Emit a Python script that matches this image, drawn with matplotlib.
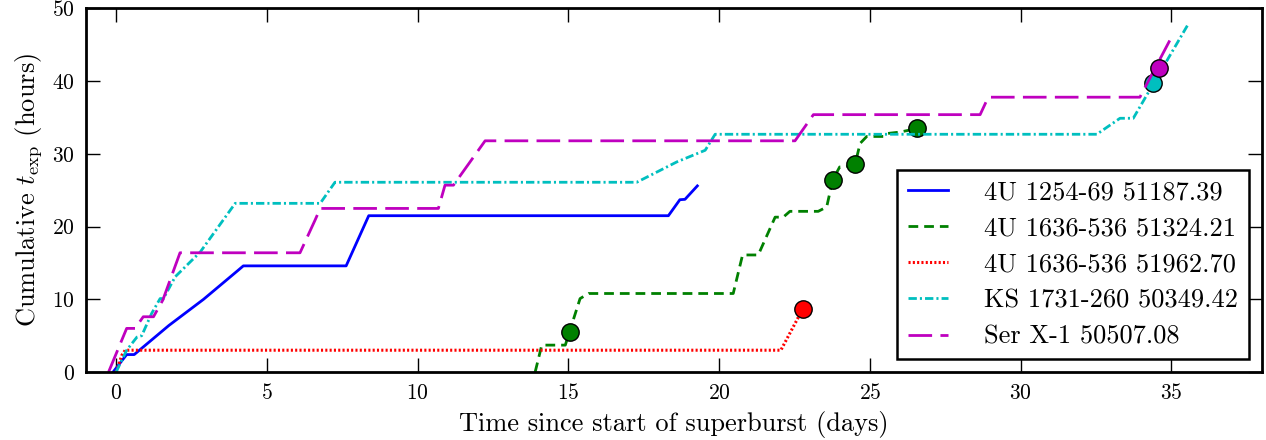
"""
Cumulative exposure time after superburst onset for several sources.
"""
import matplotlib
matplotlib.use("Agg")
import matplotlib.pyplot as plt

plt.rcParams["font.family"] = ["cmr10", "DejaVu Serif"]
plt.rcParams["mathtext.fontset"] = "cm"
plt.rcParams["axes.formatter.use_mathtext"] = True
plt.rcParams["lines.scale_dashes"] = False

# 4U 1254-69 51187.39
blue_t = [-0.1, 0.35, 0.6, 1.75, 2.9, 4.05, 4.22, 7.63, 8.38, 18.32, 18.7, 18.87, 19.28]
blue_h = [0.0, 2.4, 2.4, 6.4, 10.0, 14.0, 14.6, 14.6, 21.5, 21.5, 23.7, 23.75, 25.6]

# 4U 1636-536 51324.21
green_t = [13.9, 14.12, 14.9, 15.04, 15.39, 15.67, 20.47, 20.78, 21.3, 21.86, 22.13,
           22.35, 23.29, 23.57, 23.77, 24.0, 24.2, 24.51, 24.68, 24.9, 25.45, 25.56,
           26.0, 26.58]
green_h = [0.0, 3.7, 3.7, 5.55, 10.1, 10.8, 10.8, 16.1, 16.1, 21.3, 21.3,
           22.1, 22.1, 22.7, 26.4, 28.2, 28.2, 28.55, 31.45, 32.4, 32.4, 32.8,
           33.0, 33.5]
green_mark_t = [15.04, 23.77, 24.51, 26.58]
green_mark_h = [5.55, 26.4, 28.55, 33.5]

# 4U 1636-536 51962.70
red_t = [0.0, 0.19, 0.3, 22.05, 22.77]
red_h = [0.0, 2.3, 3.0, 3.0, 8.62]
red_mark_t = [22.77]
red_mark_h = [8.62]

# KS 1731-260 50349.42
cyan_t = [0.0, 0.35, 0.69, 0.85, 1.18, 1.46, 1.57, 1.96, 2.79, 3.95, 6.77, 7.26,
          17.27, 18.6, 19.54, 19.87, 32.53, 33.3, 33.74, 35.57]
cyan_h = [0.0, 3.0, 4.8, 5.0, 8.07, 10.1, 10.1, 13.1, 16.5, 23.2, 23.2, 26.1,
          26.1, 28.9, 30.5, 32.7, 32.7, 34.9, 34.9, 47.9]
cyan_mark_t = [34.38]
cyan_mark_h = [39.7]

# Ser X-1 50507.08
mag_t = [-0.25, 0.35, 0.63, 0.9, 1.24, 1.55, 2.12, 6.1, 6.6, 6.77, 10.69, 10.91,
         11.19, 12.24, 22.52, 23.13, 28.66, 28.93, 33.96, 34.95]
mag_h = [0.0, 6.0, 6.0, 7.6, 7.6, 9.9, 16.4, 16.4, 20.9, 22.5, 22.5, 25.7,
         25.7, 31.8, 31.8, 35.4, 35.4, 37.8, 37.8, 45.6]
mag_mark_t = [34.6]
mag_mark_h = [41.75]

labels = [
    "4U 1254-69 51187.39",
    "4U 1636-536 51324.21",
    "4U 1636-536 51962.70",
    "KS 1731-260 50349.42",
    "Ser X-1 50507.08",
]

fig = plt.figure(figsize=(12.66, 4.4), dpi=100)
ax = fig.add_axes([0.0679, 0.1545, 0.9287, 0.8262])

lw = 2.0
ms = 12.5
ax.plot(blue_t, blue_h, color="b", lw=lw, label=labels[0])
ax.plot(green_t, green_h, color="g", lw=lw, dashes=(7, 4.3), label=labels[1])
ax.plot(green_mark_t, green_mark_h, "o", color="g", mec="k", ms=ms, mew=1)
ax.plot(red_t, red_h, color="r", lw=2.2, dashes=(1.5, 1.6), label=labels[2])
ax.plot(red_mark_t, red_mark_h, "o", color="r", mec="k", ms=ms, mew=1)
ax.plot(cyan_t, cyan_h, color="c", lw=lw, dashes=(6, 2.2, 1.5, 2.2), label=labels[3])
ax.plot(cyan_mark_t, cyan_mark_h, "o", color="c", mec="k", ms=ms, mew=1)
ax.plot(mag_t, mag_h, color="m", lw=lw, dashes=(17, 6), label=labels[4])
ax.plot(mag_mark_t, mag_mark_h, "o", color="m", mec="k", ms=ms, mew=1)

ax.set_xlim(-1, 38)
ax.set_ylim(0, 50)
ax.set_xticks([0, 5, 10, 15, 20, 25, 30, 35])
ax.set_yticks([0, 10, 20, 30, 40, 50])
ax.tick_params(direction="in", top=True, right=True, length=10, width=1,
               labelsize=15.5, pad=8)
for sp in ax.spines.values():
    sp.set_linewidth(2)

ax.set_xlabel("Time since start of superburst (days)", fontsize=19, labelpad=6)
ax.set_ylabel(r"Cumulative $t_\mathrm{exp}$ (hours)", fontsize=19, labelpad=6)

leg = ax.legend(loc="lower right", bbox_to_anchor=(0.989, 0.035), borderaxespad=0,
                fontsize=19, fancybox=False, framealpha=1, edgecolor="k",
                handlelength=1.52, handletextpad=1.38, labelspacing=0.47,
                borderpad=0.4)
leg.get_frame().set_linewidth(1.8)

fig.savefig("out.png", dpi=100)
